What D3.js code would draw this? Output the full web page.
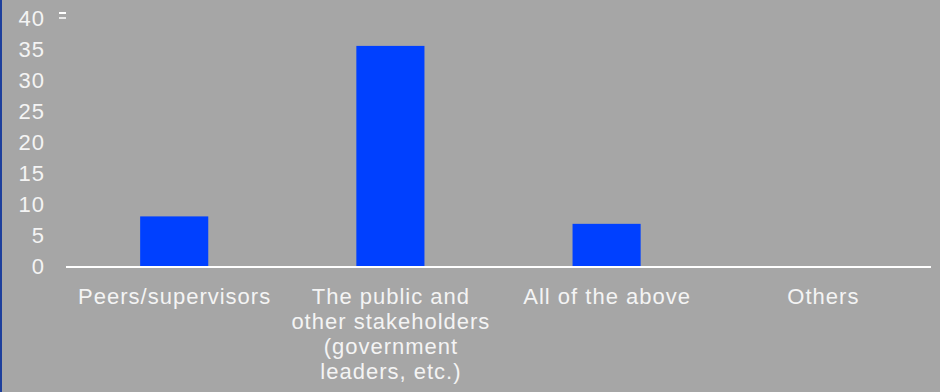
<!DOCTYPE html>
<html>
<head>
<meta charset="utf-8">
<script src="https://cdn.jsdelivr.net/npm/d3@7"></script>
<style>
  html, body { margin: 0; padding: 0; background: #a6a6a6; }
  svg { display: block; }
</style>
</head>
<body>
<div id="chart"></div>
<script>
// data
var categories = ["Peers/supervisors", "The public and other stakeholders (government leaders, etc.)", "All of the above", "Others"];
var categoryLines = [
  ["Peers/supervisors"],
  ["The public and", "other stakeholders", "(government", "leaders, etc.)"],
  ["All of the above"],
  ["Others"]
];
var values = [8, 35.5, 6.8, 0];
var yTicks = [0, 5, 10, 15, 20, 25, 30, 35, 40];

var W = 940, H = 392;
var margin = {top: 18, right: 9, bottom: 126, left: 66},
    width = W - margin.left - margin.right,
    height = H - margin.top - margin.bottom;

var fontFamily = "'Liberation Sans', Arial, sans-serif";

var svg = d3.select("#chart").append("svg")
    .attr("width", W)
    .attr("height", H);

svg.append("rect")
    .attr("width", W).attr("height", H)
    .attr("fill", "#a6a6a6");

// left blue edge
svg.append("rect")
    .attr("x", 0).attr("y", 0)
    .attr("width", 2).attr("height", H)
    .attr("fill", "#1d3f9c");

var g = svg.append("g")
    .attr("transform", "translate(" + margin.left + "," + margin.top + ")");

var x = d3.scaleBand()
    .domain(categories)
    .range([0, width])
    .paddingInner(0.685)
    .paddingOuter(0.343);

var y = d3.scaleLinear()
    .domain([0, 40])
    .range([height, 0]);

// bars
g.selectAll(".bar")
    .data(values)
    .enter().append("rect")
    .attr("class", "bar")
    .attr("x", function(d, i) { return x(categories[i]); })
    .attr("y", function(d) { return y(d); })
    .attr("width", x.bandwidth())
    .attr("height", function(d) { return height - y(d); })
    .attr("fill", "#0040ff");

// y axis labels (no line)
var yAxis = g.append("g")
    .attr("class", "y-axis")
    .call(d3.axisLeft(y).tickValues(yTicks).tickSize(0).tickPadding(21));
yAxis.select(".domain").remove();
yAxis.selectAll("text")
    .attr("fill", "#f4f4f4")
    .attr("font-family", fontFamily)
    .attr("font-size", "22px")
    .attr("letter-spacing", "1px");

// baseline
g.append("line")
    .attr("x1", 0).attr("x2", width)
    .attr("y1", height + 1).attr("y2", height + 1)
    .attr("stroke", "#ffffff")
    .attr("stroke-width", 2);

// category labels
var xBand = d3.scaleBand().domain(categories).range([0, width]);
var labels = g.selectAll(".cat-label")
    .data(categoryLines)
    .enter().append("text")
    .attr("class", "cat-label")
    .attr("text-anchor", "middle")
    .attr("fill", "#f4f4f4")
    .attr("font-family", fontFamily)
    .attr("font-size", "22px")
    .attr("letter-spacing", "1px")
    .attr("transform", function(d, i) {
      return "translate(" + (xBand(categories[i]) + xBand.bandwidth() / 2 + 0.5) + "," + (height + 38) + ")";
    });
labels.selectAll("tspan")
    .data(function(d) { return d; })
    .enter().append("tspan")
    .attr("x", 0)
    .attr("dy", function(d, i) { return i === 0 ? 0 : 25; })
    .text(function(d) { return d; });

// small legend stub at top left
var stub = g.append("g").attr("transform", "translate(-7,-6)");
stub.append("rect").attr("x", 0).attr("y", 0).attr("width", 7).attr("height", 2).attr("fill", "#ffffff");
stub.append("rect").attr("x", 0).attr("y", 5).attr("width", 7).attr("height", 2).attr("fill", "#e8e8e8");
</script>
</body>
</html>
